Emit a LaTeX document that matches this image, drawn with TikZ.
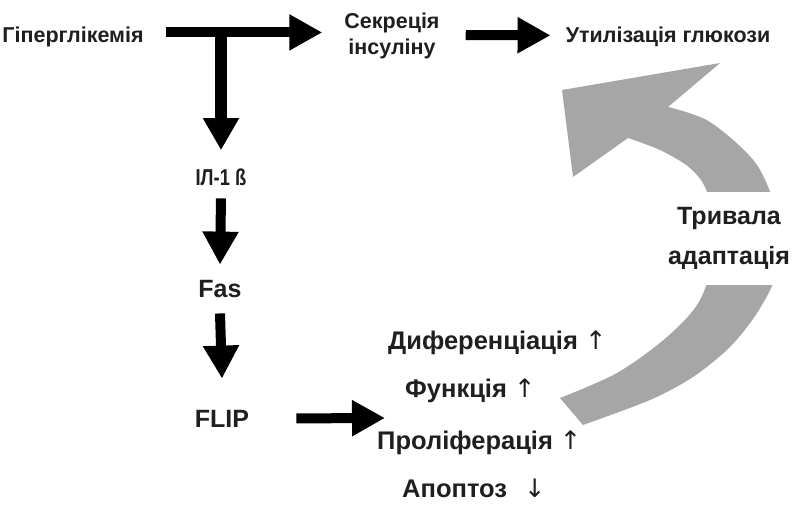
\documentclass[tikz,border=0pt]{standalone}
\usepackage{fontspec}
\setmainfont{Liberation Sans}
\newfontfamily\narrowf{Liberation Sans}[FakeStretch=0.8]
\newfontfamily\arrowfont{DejaVu Sans}
\usetikzlibrary{arrows.meta,calc}
\begin{document}
\begin{tikzpicture}[x=1pt,y=-1pt,
  lbl/.style={inner sep=0pt, text=black!88, font=\fontsize{21.5}{26}\selectfont\bfseries},
  big/.style={inner sep=0pt, text=black!88, font=\fontsize{25}{28}\selectfont\bfseries},
  item/.style={inner sep=0pt, text=black!88, anchor=base west, font=\fontsize{25.5}{28}\selectfont\bfseries},
  blk/.style={line width=10pt, -{Triangle[length=33pt,width=34pt]}},
  vblk/.style={line width=12pt, -{Triangle[length=32pt,width=34pt]}},
  garrow/.style={fill=black!35},
  ]
\useasboundingbox[fill=white] (0,0) rectangle (798,504);

% gray curved adaptation arrow
\fill[garrow] (560,398) -- plot[smooth] coordinates {(560,398) (617,373) (667,337) (700,300) (716,245) (707,192) (690,168) (660,150) (628,138)}
  -- (573,177) -- (562,90) -- (720,63) -- (668,107)
  -- plot[smooth] coordinates {(668,107) (710,122) (757,165) (780,225) (776,275) (757,313) (730,347) (693,377) (650,400) (583,425)} -- cycle;

% nodes
\node[lbl, anchor=base] (hyp) at (73,42) {Гіперглікемія};
\node[lbl, align=center] (sec) at (392,36) {Секреція\\інсуліну};
\node[lbl, anchor=base] (util) at (668,42) {Утилізація глюкози};
\node[big, anchor=base, font=\fontsize{23}{26}\narrowf\bfseries] (il) at (221,185) {ІЛ-1 ß};
\node[big, anchor=base] (fas) at (220,297) {Fas};
\node[big, anchor=base] (flip) at (222,427) {FLIP};
\node[item] (dif) at (388,349) {Диференціація {\arrowfont\mdseries ↑}};
\node[item] (fun) at (405,397) {Функція {\arrowfont\mdseries ↑}};
\node[item] (pro) at (377,449) {Проліферація {\arrowfont\mdseries ↑}};
\node[item] (apo) at (402,497) {Апоптоз\hspace{17pt}{\arrowfont\mdseries ↓}};
\node[big, align=center, fill=white, minimum width=124pt, minimum height=93pt,
      font=\fontsize{25}{40}\selectfont\bfseries] (adapt) at (729,238.5) {Тривала\\адаптація};

\coordinate (br) at (221,34);
\coordinate (lst) at (385,418);

% connectors
\draw[blk] ($(hyp.east)+(22,-4)$) -- ($(hyp.east -| sec.west)+(-22,-4)$);
\draw[vblk] (br) -- ($(il.north)+(0,-18)$);
\draw[blk] ($(sec.east)+(26,-1)$) -- ($(util.west)+(-15,-1)$);
\draw[blk] ($(il.south)+(0,13)$) -- ($(fas.north)+(0,-15)$);
\draw[blk] ($(fas.south)+(0,16)$) -- ($(flip.north)+(0,-31)$);
\draw[blk] ($(flip.east)+(47,0)$) -- (lst);
\end{tikzpicture}
\end{document}
